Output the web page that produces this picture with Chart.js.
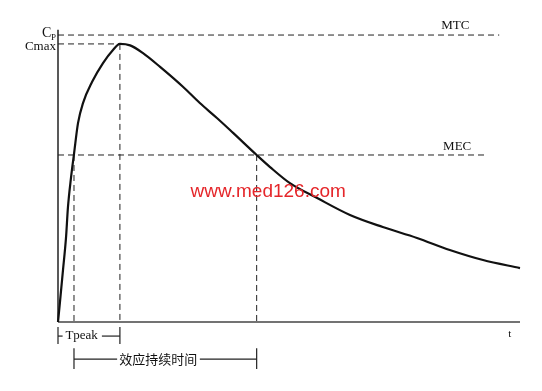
<!DOCTYPE html>
<html>
<head>
<meta charset="utf-8">
<script src="https://cdn.jsdelivr.net/npm/chart.js@4"></script>
<style>
  body { margin: 0; background: #fff; }
  canvas { display: block; }
</style>
</head>
<body>
<canvas id="pk" width="542" height="391"></canvas>
<script>
// concentration-time curve
const timeValues = [0, 0.43, 1.08, 1.73, 2.16, 2.81, 3.46, 4.33, 5.41, 7.36, 9.74, 11.9, 13.4, 15.6, 18.4, 22.1, 27.1, 30.7, 34.4, 37.9, 43.0, 45.9, 50.2, 56.1, 63.2, 70.3, 77.7, 84.8, 92.0, 100];
const concValues = [0, 7.0, 18.1, 29.3, 40.1, 50.2, 58.5, 69.3, 76.3, 83.6, 90.2, 94.8, 96.9, 96.4, 93.7, 88.9, 81.9, 76.3, 71.1, 65.9, 58.2, 54.0, 48.4, 43.2, 37.3, 33.1, 29.3, 25.1, 21.6, 18.8];

const mtcLevel = 100;
const cmaxLevel = 96.9;
const mecLevel = 58.2;
const tPeak = 13.4;
const mecOnset = 3.46;
const mecOffset = 43.0;
const tEnd = 100;

const dashStyle = { borderColor: '#222', borderWidth: 1, borderDash: [6, 4] };
const solidStyle = { borderColor: '#222', borderWidth: 1.2 };

function seg(points, style) {
    return Object.assign({
        data: points.map(p => ({ x: p[0], y: p[1] })),
        showLine: true,
        pointRadius: 0,
        clip: false
    }, style);
}

const datasets = [
    Object.assign(seg(timeValues.map((t, i) => [t, concValues[i]]), { borderColor: '#111', borderWidth: 2.2 }), { cubicInterpolationMode: 'monotone' }),
    // axes
    seg([[0, 0], [0, 101.8]], { borderColor: '#222', borderWidth: 1.5 }),
    seg([[0, 0], [tEnd, 0]], { borderColor: '#444', borderWidth: 1.5 }),
    // reference lines
    seg([[0, mtcLevel], [95.5, mtcLevel]], dashStyle),
    seg([[0, cmaxLevel], [tPeak, cmaxLevel]], dashStyle),
    seg([[tPeak, cmaxLevel], [tPeak, 0]], dashStyle),
    seg([[0, mecLevel], [93, mecLevel]], dashStyle),
    seg([[mecOnset, mecLevel], [mecOnset, 0]], dashStyle),
    seg([[mecOffset, mecLevel], [mecOffset, 0]], dashStyle),
    // Tpeak bracket
    seg([[0, -1.7], [0, -7.7]], solidStyle),
    seg([[tPeak, -1.7], [tPeak, -7.7]], solidStyle),
    seg([[0, -4.9], [1, -4.9]], solidStyle),
    seg([[9.5, -4.9], [tPeak, -4.9]], solidStyle),
    // effect duration bracket
    seg([[mecOnset, -9.1], [mecOnset, -16.4]], solidStyle),
    seg([[mecOffset, -9.1], [mecOffset, -16.4]], solidStyle),
    seg([[mecOnset, -12.9], [12.8, -12.9]], solidStyle),
    seg([[30.7, -12.9], [mecOffset, -12.9]], solidStyle)
];

const labelPlugin = {
    id: 'labels',
    afterDatasetsDraw(chart) {
        const ctx = chart.ctx;
        const xs = chart.scales.x, ys = chart.scales.y;
        const px = v => xs.getPixelForValue(v);
        const py = v => ys.getPixelForValue(v);
        ctx.save();
        ctx.fillStyle = '#111';
        ctx.textBaseline = 'middle';

        // Cp with subscript
        ctx.font = '14px "Liberation Serif", serif';
        ctx.textAlign = 'left';
        ctx.fillText('C', px(0) - 16, py(mtcLevel) - 2);
        ctx.font = '9px "Liberation Serif", serif';
        ctx.fillText('P', px(0) - 7, py(mtcLevel) + 3);
        ctx.font = '13px "Liberation Serif", serif';
        ctx.textAlign = 'right';
        ctx.fillText('Cmax', px(0) - 2, py(cmaxLevel) + 3);

        ctx.textAlign = 'center';
        ctx.fillText('MTC', px(86), py(mtcLevel) - 9);
        ctx.fillText('MEC', px(86.4), py(mecLevel) - 8);
        ctx.font = '11px "Liberation Serif", serif';
        ctx.fillText('t', px(97.8), py(0) + 12);

        ctx.font = '13px "Liberation Serif", serif';
        ctx.textAlign = 'left';
        ctx.fillText('Tpeak', px(1.6), py(-4.9));
        ctx.font = '13px "Noto Sans CJK SC", sans-serif';
        ctx.textAlign = 'center';
        ctx.fillText('效应持续时间', px(21.7), py(-12.9));

        // watermark
        ctx.fillStyle = '#e5262a';
        ctx.font = '19px "Liberation Sans", Arial, sans-serif';
        ctx.fillText('www.med126.com', px(45.5), py(45.5));
        ctx.restore();
    }
};

new Chart(document.getElementById('pk'), {
    type: 'scatter',
    data: { datasets: datasets },
    options: {
        responsive: false,
        animation: false,
        layout: { padding: { left: 58, right: 22, top: 29.3, bottom: 20.2 } },
        plugins: { legend: { display: false }, tooltip: { enabled: false } },
        scales: {
            x: { type: 'linear', min: 0, max: tEnd, display: false },
            y: { type: 'linear', min: -17, max: 102, display: false }
        }
    },
    plugins: [labelPlugin]
});
</script>
</body>
</html>
